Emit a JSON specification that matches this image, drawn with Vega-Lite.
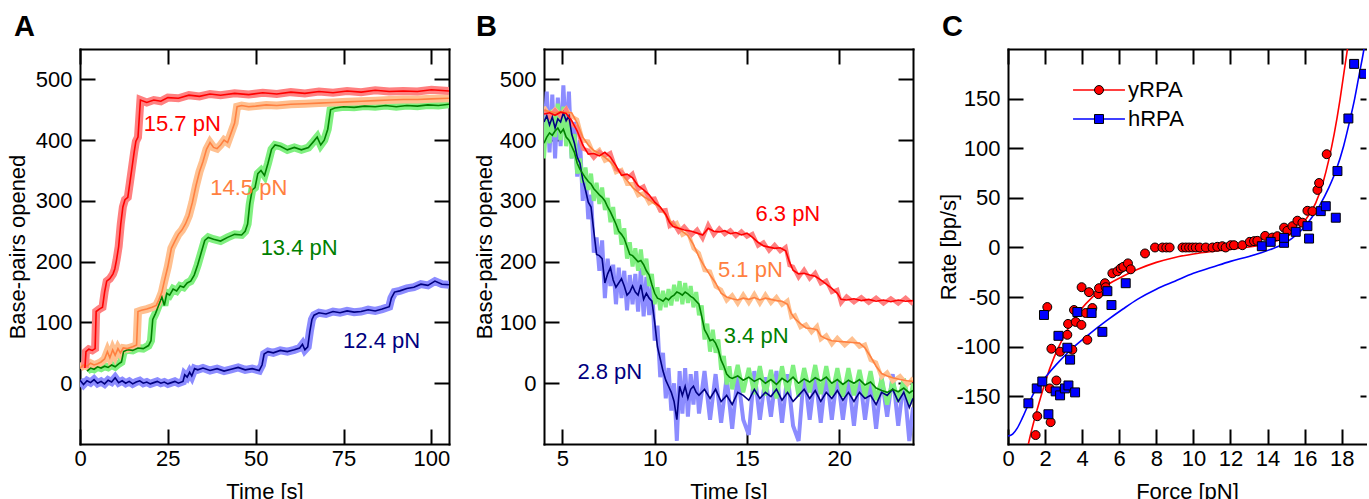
{
"$schema":"https://vega.github.io/schema/vega-lite/v6.json",
"padding":{"left":6,"top":13,"right":0,"bottom":0},
"bounds":"flush",
"spacing":95,
"resolve":{"scale":{"color":"independent","stroke":"independent","strokeWidth":"independent","fill":"independent","shape":"independent"},"legend":{"color":"independent","stroke":"independent","strokeWidth":"independent","fill":"independent","shape":"independent"}},
"config":{
"font":"Liberation Sans",
"view":{"stroke":null},
"axis":{"labelFontSize":22,"labelColor":"black","titleFontSize":22,"titleFontWeight":"normal","titleColor":"black","domainColor":"black","domainWidth":2,"domainCap":"square","tickColor":"black","tickWidth":2,"tickSize":-15,"grid":false,"labelFlush":false,"labelOverlap":false,"zindex":1},
"legend":{"labelFontSize":22,"labelColor":"black"},
"title":{"fontSize":29,"fontWeight":"bold","color":"black","anchor":"start","frame":"group"}
},
"datasets":{
"A":[
{"s":"12.4","t":0,"v":5},{"s":"12.4","t":1,"v":-2},{"s":"12.4","t":2,"v":4},{"s":"12.4","t":3,"v":1},{"s":"12.4","t":4,"v":6},{"s":"12.4","t":5,"v":0},{"s":"12.4","t":6,"v":3},{"s":"12.4","t":7,"v":-1},{"s":"12.4","t":8,"v":5},{"s":"12.4","t":9,"v":2},{"s":"12.4","t":10,"v":9},{"s":"12.4","t":11,"v":1},{"s":"12.4","t":12,"v":4},{"s":"12.4","t":13,"v":0},{"s":"12.4","t":14,"v":3},{"s":"12.4","t":15,"v":-1},{"s":"12.4","t":16,"v":2},{"s":"12.4","t":17,"v":4},{"s":"12.4","t":18,"v":0},{"s":"12.4","t":19,"v":2},{"s":"12.4","t":20,"v":-1},{"s":"12.4","t":21,"v":1},{"s":"12.4","t":22,"v":3},{"s":"12.4","t":23,"v":0},{"s":"12.4","t":24,"v":2},{"s":"12.4","t":25,"v":-1},{"s":"12.4","t":26,"v":1},{"s":"12.4","t":27,"v":3},{"s":"12.4","t":28,"v":0},{"s":"12.4","t":29.3,"v":3},{"s":"12.4","t":29.8,"v":14},{"s":"12.4","t":30.5,"v":10},{"s":"12.4","t":31.2,"v":18},{"s":"12.4","t":31.8,"v":12},{"s":"12.4","t":32.6,"v":24},{"s":"12.4","t":33.5,"v":22},{"s":"12.4","t":35,"v":25},{"s":"12.4","t":37,"v":21},{"s":"12.4","t":39,"v":24},{"s":"12.4","t":41,"v":20},{"s":"12.4","t":43,"v":23},{"s":"12.4","t":45,"v":26},{"s":"12.4","t":47,"v":22},{"s":"12.4","t":49,"v":24},{"s":"12.4","t":51,"v":21},{"s":"12.4","t":51.8,"v":30},{"s":"12.4","t":52.4,"v":48},{"s":"12.4","t":53.5,"v":52},{"s":"12.4","t":55,"v":50},{"s":"12.4","t":57,"v":54},{"s":"12.4","t":59,"v":52},{"s":"12.4","t":61,"v":55},{"s":"12.4","t":62.5,"v":58},{"s":"12.4","t":63.3,"v":64},{"s":"12.4","t":64,"v":55},{"s":"12.4","t":64.8,"v":60},{"s":"12.4","t":65.4,"v":85},{"s":"12.4","t":66,"v":105},{"s":"12.4","t":66.6,"v":112},{"s":"12.4","t":68,"v":116},{"s":"12.4","t":70,"v":114},{"s":"12.4","t":72,"v":118},{"s":"12.4","t":74,"v":116},{"s":"12.4","t":76,"v":119},{"s":"12.4","t":78,"v":117},{"s":"12.4","t":80,"v":118},{"s":"12.4","t":82,"v":121},{"s":"12.4","t":84,"v":119},{"s":"12.4","t":86,"v":122},{"s":"12.4","t":88,"v":126},{"s":"12.4","t":88.6,"v":140},{"s":"12.4","t":89.5,"v":150},{"s":"12.4","t":91,"v":152},{"s":"12.4","t":93,"v":156},{"s":"12.4","t":95,"v":158},{"s":"12.4","t":97,"v":163},{"s":"12.4","t":99,"v":161},{"s":"12.4","t":101,"v":168},{"s":"12.4","t":103,"v":163},{"s":"12.4","t":105,"v":162},
{"s":"13.4","t":2,"v":20},{"s":"13.4","t":3,"v":25},{"s":"13.4","t":4,"v":23},{"s":"13.4","t":5,"v":27},{"s":"13.4","t":6,"v":25},{"s":"13.4","t":7,"v":28},{"s":"13.4","t":8,"v":26},{"s":"13.4","t":9,"v":30},{"s":"13.4","t":10,"v":27},{"s":"13.4","t":11,"v":32},{"s":"13.4","t":11.8,"v":35},{"s":"13.4","t":12.4,"v":52},{"s":"13.4","t":13.5,"v":55},{"s":"13.4","t":15,"v":54},{"s":"13.4","t":16.5,"v":58},{"s":"13.4","t":18,"v":57},{"s":"13.4","t":19.5,"v":62},{"s":"13.4","t":20.2,"v":70},{"s":"13.4","t":20.7,"v":105},{"s":"13.4","t":21.5,"v":115},{"s":"13.4","t":22.5,"v":130},{"s":"13.4","t":23.3,"v":142},{"s":"13.4","t":24,"v":128},{"s":"13.4","t":24.7,"v":148},{"s":"13.4","t":25.5,"v":145},{"s":"13.4","t":26.5,"v":155},{"s":"13.4","t":27.5,"v":152},{"s":"13.4","t":28.5,"v":160},{"s":"13.4","t":29.5,"v":158},{"s":"13.4","t":30.5,"v":165},{"s":"13.4","t":31.5,"v":168},{"s":"13.4","t":32.5,"v":178},{"s":"13.4","t":33.5,"v":195},{"s":"13.4","t":34.5,"v":215},{"s":"13.4","t":35.5,"v":235},{"s":"13.4","t":36.5,"v":240},{"s":"13.4","t":38,"v":237},{"s":"13.4","t":40,"v":234},{"s":"13.4","t":42,"v":240},{"s":"13.4","t":44,"v":245},{"s":"13.4","t":46,"v":244},{"s":"13.4","t":47,"v":250},{"s":"13.4","t":47.7,"v":262},{"s":"13.4","t":48.3,"v":295},{"s":"13.4","t":49,"v":318},{"s":"13.4","t":49.8,"v":322},{"s":"13.4","t":50.6,"v":345},{"s":"13.4","t":51.5,"v":350},{"s":"13.4","t":52.5,"v":342},{"s":"13.4","t":53.5,"v":362},{"s":"13.4","t":54.5,"v":385},{"s":"13.4","t":55.5,"v":392},{"s":"13.4","t":57,"v":390},{"s":"13.4","t":59,"v":384},{"s":"13.4","t":61,"v":388},{"s":"13.4","t":63,"v":384},{"s":"13.4","t":65,"v":388},{"s":"13.4","t":66.5,"v":398},{"s":"13.4","t":67.5,"v":405},{"s":"13.4","t":68.5,"v":392},{"s":"13.4","t":69.5,"v":400},{"s":"13.4","t":70.5,"v":418},{"s":"13.4","t":71.3,"v":450},{"s":"13.4","t":72.5,"v":453},{"s":"13.4","t":75,"v":455},{"s":"13.4","t":78,"v":454},{"s":"13.4","t":81,"v":456},{"s":"13.4","t":84,"v":455},{"s":"13.4","t":87,"v":457},{"s":"13.4","t":90,"v":455},{"s":"13.4","t":93,"v":457},{"s":"13.4","t":96,"v":456},{"s":"13.4","t":99,"v":458},{"s":"13.4","t":102,"v":457},{"s":"13.4","t":105,"v":459},
{"s":"14.5","t":0,"v":25},{"s":"14.5","t":1,"v":30},{"s":"14.5","t":2,"v":28},{"s":"14.5","t":3,"v":33},{"s":"14.5","t":4,"v":30},{"s":"14.5","t":5,"v":32},{"s":"14.5","t":6,"v":35},{"s":"14.5","t":7,"v":40},{"s":"14.5","t":7.8,"v":52},{"s":"14.5","t":8.5,"v":42},{"s":"14.5","t":9.3,"v":55},{"s":"14.5","t":10,"v":46},{"s":"14.5","t":10.8,"v":57},{"s":"14.5","t":11.5,"v":50},{"s":"14.5","t":12.3,"v":58},{"s":"14.5","t":13.5,"v":57},{"s":"14.5","t":15,"v":60},{"s":"14.5","t":16.1,"v":63},{"s":"14.5","t":16.5,"v":118},{"s":"14.5","t":17.5,"v":120},{"s":"14.5","t":19,"v":122},{"s":"14.5","t":20.5,"v":125},{"s":"14.5","t":21.7,"v":128},{"s":"14.5","t":22.5,"v":138},{"s":"14.5","t":23.3,"v":150},{"s":"14.5","t":24,"v":168},{"s":"14.5","t":25,"v":192},{"s":"14.5","t":26,"v":222},{"s":"14.5","t":27,"v":234},{"s":"14.5","t":28,"v":245},{"s":"14.5","t":29,"v":252},{"s":"14.5","t":30,"v":262},{"s":"14.5","t":31,"v":276},{"s":"14.5","t":32,"v":298},{"s":"14.5","t":33,"v":325},{"s":"14.5","t":34,"v":348},{"s":"14.5","t":35,"v":365},{"s":"14.5","t":36,"v":385},{"s":"14.5","t":37,"v":396},{"s":"14.5","t":38,"v":388},{"s":"14.5","t":39,"v":386},{"s":"14.5","t":40,"v":392},{"s":"14.5","t":41,"v":400},{"s":"14.5","t":42,"v":396},{"s":"14.5","t":43,"v":412},{"s":"14.5","t":44,"v":428},{"s":"14.5","t":44.7,"v":455},{"s":"14.5","t":46,"v":457},{"s":"14.5","t":48,"v":455},{"s":"14.5","t":50,"v":456},{"s":"14.5","t":53,"v":458},{"s":"14.5","t":56,"v":457},{"s":"14.5","t":60,"v":459},{"s":"14.5","t":64,"v":460},{"s":"14.5","t":68,"v":461},{"s":"14.5","t":72,"v":462},{"s":"14.5","t":76,"v":463},{"s":"14.5","t":80,"v":464},{"s":"14.5","t":84,"v":465},{"s":"14.5","t":88,"v":466},{"s":"14.5","t":92,"v":467},{"s":"14.5","t":96,"v":467},{"s":"14.5","t":100,"v":468},{"s":"14.5","t":105,"v":469},
{"s":"15.7","t":1.4,"v":25},{"s":"15.7","t":1.7,"v":52},{"s":"15.7","t":2.5,"v":56},{"s":"15.7","t":3.5,"v":54},{"s":"15.7","t":4.3,"v":57},{"s":"15.7","t":4.6,"v":118},{"s":"15.7","t":5.5,"v":122},{"s":"15.7","t":6.4,"v":125},{"s":"15.7","t":7.0,"v":150},{"s":"15.7","t":7.6,"v":168},{"s":"15.7","t":8.5,"v":172},{"s":"15.7","t":9.4,"v":180},{"s":"15.7","t":9.9,"v":188},{"s":"15.7","t":10.4,"v":203},{"s":"15.7","t":11.0,"v":225},{"s":"15.7","t":11.6,"v":262},{"s":"15.7","t":12.2,"v":290},{"s":"15.7","t":12.8,"v":302},{"s":"15.7","t":13.6,"v":306},{"s":"15.7","t":14.2,"v":330},{"s":"15.7","t":14.8,"v":355},{"s":"15.7","t":15.4,"v":380},{"s":"15.7","t":15.9,"v":398},{"s":"15.7","t":16.5,"v":405},{"s":"15.7","t":16.9,"v":440},{"s":"15.7","t":17.2,"v":466},{"s":"15.7","t":19,"v":462},{"s":"15.7","t":21,"v":466},{"s":"15.7","t":23,"v":464},{"s":"15.7","t":25,"v":470},{"s":"15.7","t":28,"v":469},{"s":"15.7","t":31,"v":474},{"s":"15.7","t":34,"v":472},{"s":"15.7","t":37,"v":476},{"s":"15.7","t":40,"v":474},{"s":"15.7","t":44,"v":477},{"s":"15.7","t":48,"v":475},{"s":"15.7","t":52,"v":478},{"s":"15.7","t":56,"v":476},{"s":"15.7","t":60,"v":479},{"s":"15.7","t":64,"v":477},{"s":"15.7","t":68,"v":480},{"s":"15.7","t":72,"v":478},{"s":"15.7","t":76,"v":481},{"s":"15.7","t":80,"v":479},{"s":"15.7","t":84,"v":482},{"s":"15.7","t":88,"v":480},{"s":"15.7","t":92,"v":481},{"s":"15.7","t":96,"v":480},{"s":"15.7","t":100,"v":483},{"s":"15.7","t":105,"v":481}
],
"B":[
{"s":"2.8","t":4.0,"v":430,"r":400},{"s":"2.8","t":4.15,"v":440,"r":480},{"s":"2.8","t":4.3,"v":425,"r":380},{"s":"2.8","t":4.45,"v":438,"r":475},{"s":"2.8","t":4.6,"v":420,"r":370},{"s":"2.8","t":4.75,"v":435,"r":470},{"s":"2.8","t":4.9,"v":430,"r":390},{"s":"2.8","t":5.05,"v":445,"r":490},{"s":"2.8","t":5.2,"v":432,"r":400},{"s":"2.8","t":5.35,"v":440,"r":480},{"s":"2.8","t":5.5,"v":410,"r":370},{"s":"2.8","t":5.65,"v":395,"r":430},{"s":"2.8","t":5.8,"v":372,"r":340},{"s":"2.8","t":5.95,"v":362,"r":400},{"s":"2.8","t":6.1,"v":335,"r":300},{"s":"2.8","t":6.25,"v":318,"r":350},{"s":"2.8","t":6.4,"v":298,"r":270},{"s":"2.8","t":6.55,"v":290,"r":310},{"s":"2.8","t":6.7,"v":250,"r":215},{"s":"2.8","t":6.85,"v":212,"r":240},{"s":"2.8","t":7.0,"v":210,"r":185},{"s":"2.8","t":7.15,"v":205,"r":235},{"s":"2.8","t":7.3,"v":165,"r":140},{"s":"2.8","t":7.45,"v":180,"r":205},{"s":"2.8","t":7.6,"v":190,"r":160},{"s":"2.8","t":7.75,"v":170,"r":195},{"s":"2.8","t":7.9,"v":158,"r":130},{"s":"2.8","t":8.05,"v":165,"r":190},{"s":"2.8","t":8.2,"v":172,"r":140},{"s":"2.8","t":8.35,"v":160,"r":185},{"s":"2.8","t":8.5,"v":145,"r":120},{"s":"2.8","t":8.65,"v":150,"r":178},{"s":"2.8","t":8.8,"v":160,"r":130},{"s":"2.8","t":8.95,"v":150,"r":180},{"s":"2.8","t":9.1,"v":145,"r":118},{"s":"2.8","t":9.25,"v":162,"r":190},{"s":"2.8","t":9.4,"v":138,"r":110},{"s":"2.8","t":9.55,"v":148,"r":175},{"s":"2.8","t":9.7,"v":140,"r":112},{"s":"2.8","t":9.85,"v":135,"r":165},{"s":"2.8","t":10.0,"v":100,"r":70},{"s":"2.8","t":10.15,"v":60,"r":95},{"s":"2.8","t":10.3,"v":40,"r":10},{"s":"2.8","t":10.45,"v":20,"r":50},{"s":"2.8","t":10.6,"v":5,"r":-25},{"s":"2.8","t":10.75,"v":-5,"r":25},{"s":"2.8","t":10.9,"v":-15,"r":-45},{"s":"2.8","t":11.05,"v":-30,"r":0},{"s":"2.8","t":11.2,"v":-60,"r":-95},{"s":"2.8","t":11.35,"v":-5,"r":20},{"s":"2.8","t":11.5,"v":-20,"r":-50},{"s":"2.8","t":11.65,"v":-5,"r":25},{"s":"2.8","t":11.8,"v":-25,"r":-55},{"s":"2.8","t":11.95,"v":-10,"r":15},{"s":"2.8","t":12.1,"v":-5,"r":-35},{"s":"2.8","t":12.25,"v":-15,"r":20},{"s":"2.8","t":12.4,"v":-20,"r":-50},{"s":"2.8","t":12.7,"v":-10,"r":20},{"s":"2.8","t":13.0,"v":-25,"r":-60},{"s":"2.8","t":13.3,"v":-10,"r":15},{"s":"2.8","t":13.6,"v":-30,"r":-65},{"s":"2.8","t":13.9,"v":-20,"r":10},{"s":"2.8","t":14.2,"v":-35,"r":-75},{"s":"2.8","t":14.5,"v":-15,"r":15},{"s":"2.8","t":14.8,"v":-20,"r":-60},{"s":"2.8","t":15.1,"v":-28,"r":-85},{"s":"2.8","t":15.4,"v":-10,"r":20},{"s":"2.8","t":15.7,"v":-25,"r":-60},{"s":"2.8","t":16.0,"v":-15,"r":10},{"s":"2.8","t":16.3,"v":-22,"r":-55},{"s":"2.8","t":16.6,"v":-10,"r":20},{"s":"2.8","t":16.9,"v":-28,"r":-65},{"s":"2.8","t":17.2,"v":-15,"r":15},{"s":"2.8","t":17.5,"v":-30,"r":-70},{"s":"2.8","t":17.8,"v":-20,"r":-95},{"s":"2.8","t":18.1,"v":-10,"r":20},{"s":"2.8","t":18.4,"v":-25,"r":-60},{"s":"2.8","t":18.7,"v":-12,"r":15},{"s":"2.8","t":19.0,"v":-30,"r":-65},{"s":"2.8","t":19.3,"v":-15,"r":20},{"s":"2.8","t":19.6,"v":-25,"r":-60},{"s":"2.8","t":19.9,"v":-12,"r":15},{"s":"2.8","t":20.2,"v":-28,"r":-60},{"s":"2.8","t":20.5,"v":-15,"r":10},{"s":"2.8","t":20.8,"v":-30,"r":-70},{"s":"2.8","t":21.1,"v":-15,"r":15},{"s":"2.8","t":21.4,"v":-25,"r":-60},{"s":"2.8","t":21.7,"v":-20,"r":10},{"s":"2.8","t":22.0,"v":-35,"r":-75},{"s":"2.8","t":22.3,"v":-15,"r":10},{"s":"2.8","t":22.6,"v":-20,"r":-55},{"s":"2.8","t":22.9,"v":-10,"r":15},{"s":"2.8","t":23.2,"v":-30,"r":-70},{"s":"2.8","t":23.5,"v":-15,"r":5},{"s":"2.8","t":23.8,"v":-40,"r":-95},{"s":"2.8","t":24.0,"v":-25,"r":-40},
{"s":"3.4","t":4.0,"v":395,"r":370},{"s":"3.4","t":4.15,"v":405,"r":440},{"s":"3.4","t":4.3,"v":412,"r":395},{"s":"3.4","t":4.45,"v":408,"r":450},{"s":"3.4","t":4.6,"v":415,"r":405},{"s":"3.4","t":4.75,"v":420,"r":460},{"s":"3.4","t":4.9,"v":412,"r":400},{"s":"3.4","t":5.05,"v":418,"r":455},{"s":"3.4","t":5.2,"v":405,"r":390},{"s":"3.4","t":5.35,"v":400,"r":440},{"s":"3.4","t":5.5,"v":390,"r":370},{"s":"3.4","t":5.65,"v":380,"r":410},{"s":"3.4","t":5.8,"v":362,"r":345},{"s":"3.4","t":5.95,"v":352,"r":370},{"s":"3.4","t":6.1,"v":345,"r":330},{"s":"3.4","t":6.25,"v":338,"r":355},{"s":"3.4","t":6.4,"v":332,"r":318},{"s":"3.4","t":6.55,"v":328,"r":345},{"s":"3.4","t":6.7,"v":320,"r":300},{"s":"3.4","t":6.85,"v":315,"r":330},{"s":"3.4","t":7.0,"v":310,"r":295},{"s":"3.4","t":7.15,"v":306,"r":322},{"s":"3.4","t":7.3,"v":300,"r":285},{"s":"3.4","t":7.45,"v":290,"r":305},{"s":"3.4","t":7.6,"v":282,"r":265},{"s":"3.4","t":7.75,"v":272,"r":290},{"s":"3.4","t":7.9,"v":262,"r":245},{"s":"3.4","t":8.05,"v":250,"r":270},{"s":"3.4","t":8.2,"v":245,"r":228},{"s":"3.4","t":8.35,"v":238,"r":255},{"s":"3.4","t":8.5,"v":225,"r":205},{"s":"3.4","t":8.65,"v":212,"r":232},{"s":"3.4","t":8.8,"v":210,"r":192},{"s":"3.4","t":8.95,"v":205,"r":222},{"s":"3.4","t":9.1,"v":200,"r":185},{"s":"3.4","t":9.25,"v":202,"r":220},{"s":"3.4","t":9.4,"v":195,"r":178},{"s":"3.4","t":9.55,"v":185,"r":205},{"s":"3.4","t":9.7,"v":178,"r":160},{"s":"3.4","t":9.85,"v":162,"r":180},{"s":"3.4","t":10.0,"v":148,"r":130},{"s":"3.4","t":10.15,"v":140,"r":158},{"s":"3.4","t":10.3,"v":138,"r":120},{"s":"3.4","t":10.45,"v":135,"r":152},{"s":"3.4","t":10.6,"v":140,"r":125},{"s":"3.4","t":10.75,"v":137,"r":155},{"s":"3.4","t":10.9,"v":142,"r":128},{"s":"3.4","t":11.05,"v":145,"r":162},{"s":"3.4","t":11.2,"v":150,"r":135},{"s":"3.4","t":11.35,"v":148,"r":168},{"s":"3.4","t":11.5,"v":145,"r":130},{"s":"3.4","t":11.65,"v":150,"r":165},{"s":"3.4","t":11.8,"v":147,"r":132},{"s":"3.4","t":11.95,"v":143,"r":160},{"s":"3.4","t":12.1,"v":140,"r":125},{"s":"3.4","t":12.25,"v":135,"r":150},{"s":"3.4","t":12.4,"v":130,"r":112},{"s":"3.4","t":12.55,"v":110,"r":128},{"s":"3.4","t":12.7,"v":88,"r":72},{"s":"3.4","t":12.85,"v":80,"r":98},{"s":"3.4","t":13.0,"v":70,"r":52},{"s":"3.4","t":13.15,"v":72,"r":88},{"s":"3.4","t":13.3,"v":66,"r":50},{"s":"3.4","t":13.45,"v":55,"r":72},{"s":"3.4","t":13.6,"v":38,"r":22},{"s":"3.4","t":13.75,"v":28,"r":45},{"s":"3.4","t":13.9,"v":15,"r":-2},{"s":"3.4","t":14.05,"v":10,"r":28},{"s":"3.4","t":14.2,"v":8,"r":-10},{"s":"3.4","t":14.5,"v":12,"r":30},{"s":"3.4","t":14.8,"v":5,"r":-15},{"s":"3.4","t":15.1,"v":10,"r":25},{"s":"3.4","t":15.4,"v":3,"r":-18},{"s":"3.4","t":15.7,"v":8,"r":28},{"s":"3.4","t":16.0,"v":0,"r":-20},{"s":"3.4","t":16.3,"v":6,"r":22},{"s":"3.4","t":16.6,"v":-2,"r":-25},{"s":"3.4","t":16.9,"v":8,"r":28},{"s":"3.4","t":17.2,"v":2,"r":-18},{"s":"3.4","t":17.5,"v":10,"r":30},{"s":"3.4","t":17.8,"v":0,"r":-22},{"s":"3.4","t":18.1,"v":7,"r":25},{"s":"3.4","t":18.4,"v":2,"r":-15},{"s":"3.4","t":18.7,"v":9,"r":30},{"s":"3.4","t":19.0,"v":4,"r":-18},{"s":"3.4","t":19.3,"v":10,"r":28},{"s":"3.4","t":19.6,"v":0,"r":-20},{"s":"3.4","t":19.9,"v":6,"r":25},{"s":"3.4","t":20.2,"v":-2,"r":-22},{"s":"3.4","t":20.5,"v":5,"r":25},{"s":"3.4","t":20.8,"v":0,"r":-20},{"s":"3.4","t":21.1,"v":6,"r":22},{"s":"3.4","t":21.4,"v":-3,"r":-22},{"s":"3.4","t":21.7,"v":2,"r":20},{"s":"3.4","t":22.0,"v":-8,"r":-28},{"s":"3.4","t":22.3,"v":-12,"r":8},{"s":"3.4","t":22.6,"v":-15,"r":-35},{"s":"3.4","t":22.9,"v":-10,"r":5},{"s":"3.4","t":23.2,"v":-14,"r":-30},{"s":"3.4","t":23.5,"v":-8,"r":8},{"s":"3.4","t":23.8,"v":-16,"r":-35},{"s":"3.4","t":24.0,"v":-12,"r":0},
{"s":"5.1","t":4.0,"v":449,"r":455},{"s":"5.1","t":4.3,"v":447,"r":441},{"s":"5.1","t":4.6,"v":445,"r":451},{"s":"5.1","t":4.9,"v":447,"r":441},{"s":"5.1","t":5.2,"v":446,"r":452},{"s":"5.1","t":5.5,"v":445,"r":439},{"s":"5.1","t":5.8,"v":428,"r":434},{"s":"5.1","t":6.1,"v":405,"r":399},{"s":"5.1","t":6.4,"v":392,"r":398},{"s":"5.1","t":6.7,"v":383,"r":377},{"s":"5.1","t":7.0,"v":378,"r":384},{"s":"5.1","t":7.3,"v":372,"r":366},{"s":"5.1","t":7.6,"v":364,"r":370},{"s":"5.1","t":7.9,"v":353,"r":347},{"s":"5.1","t":8.2,"v":345,"r":351},{"s":"5.1","t":8.5,"v":334,"r":328},{"s":"5.1","t":8.8,"v":322,"r":328},{"s":"5.1","t":9.1,"v":315,"r":309},{"s":"5.1","t":9.4,"v":307,"r":313},{"s":"5.1","t":9.7,"v":302,"r":296},{"s":"5.1","t":10.0,"v":295,"r":301},{"s":"5.1","t":10.3,"v":290,"r":284},{"s":"5.1","t":10.6,"v":276,"r":282},{"s":"5.1","t":10.9,"v":265,"r":259},{"s":"5.1","t":11.2,"v":258,"r":264},{"s":"5.1","t":11.5,"v":250,"r":244},{"s":"5.1","t":11.8,"v":243,"r":249},{"s":"5.1","t":12.1,"v":228,"r":222},{"s":"5.1","t":12.4,"v":208,"r":214},{"s":"5.1","t":12.7,"v":192,"r":186},{"s":"5.1","t":13.0,"v":178,"r":184},{"s":"5.1","t":13.3,"v":165,"r":159},{"s":"5.1","t":13.6,"v":148,"r":154},{"s":"5.1","t":13.9,"v":142,"r":136},{"s":"5.1","t":14.2,"v":139,"r":145},{"s":"5.1","t":14.5,"v":137,"r":131},{"s":"5.1","t":14.8,"v":140,"r":146},{"s":"5.1","t":15.1,"v":138,"r":132},{"s":"5.1","t":15.4,"v":141,"r":147},{"s":"5.1","t":15.7,"v":137,"r":131},{"s":"5.1","t":16.0,"v":140,"r":146},{"s":"5.1","t":16.3,"v":138,"r":132},{"s":"5.1","t":16.6,"v":136,"r":142},{"s":"5.1","t":16.9,"v":135,"r":129},{"s":"5.1","t":17.2,"v":130,"r":136},{"s":"5.1","t":17.4,"v":115,"r":109},{"s":"5.1","t":17.6,"v":106,"r":112},{"s":"5.1","t":17.9,"v":98,"r":92},{"s":"5.1","t":18.2,"v":91,"r":97},{"s":"5.1","t":18.5,"v":90,"r":84},{"s":"5.1","t":18.8,"v":88,"r":94},{"s":"5.1","t":19.0,"v":78,"r":72},{"s":"5.1","t":19.3,"v":73,"r":79},{"s":"5.1","t":19.6,"v":70,"r":64},{"s":"5.1","t":19.9,"v":69,"r":75},{"s":"5.1","t":20.3,"v":68,"r":62},{"s":"5.1","t":20.7,"v":67,"r":73},{"s":"5.1","t":21.1,"v":66,"r":60},{"s":"5.1","t":21.4,"v":58,"r":64},{"s":"5.1","t":21.7,"v":44,"r":38},{"s":"5.1","t":22.0,"v":28,"r":34},{"s":"5.1","t":22.3,"v":16,"r":10},{"s":"5.1","t":22.6,"v":12,"r":18},{"s":"5.1","t":22.9,"v":9,"r":3},{"s":"5.1","t":23.3,"v":6,"r":12},{"s":"5.1","t":23.7,"v":4,"r":-2},{"s":"5.1","t":24.0,"v":3,"r":9},
{"s":"6.3","t":4.0,"v":443,"r":450},{"s":"6.3","t":4.3,"v":445,"r":438},{"s":"6.3","t":4.6,"v":441,"r":449},{"s":"6.3","t":4.9,"v":446,"r":439},{"s":"6.3","t":5.2,"v":444,"r":451},{"s":"6.3","t":5.5,"v":432,"r":426},{"s":"6.3","t":5.8,"v":415,"r":421},{"s":"6.3","t":6.1,"v":392,"r":386},{"s":"6.3","t":6.4,"v":377,"r":383},{"s":"6.3","t":6.7,"v":378,"r":371},{"s":"6.3","t":7.0,"v":374,"r":381},{"s":"6.3","t":7.3,"v":380,"r":374},{"s":"6.3","t":7.6,"v":372,"r":379},{"s":"6.3","t":7.9,"v":358,"r":352},{"s":"6.3","t":8.2,"v":342,"r":348},{"s":"6.3","t":8.5,"v":344,"r":337},{"s":"6.3","t":8.8,"v":338,"r":345},{"s":"6.3","t":9.1,"v":325,"r":319},{"s":"6.3","t":9.4,"v":318,"r":324},{"s":"6.3","t":9.7,"v":310,"r":303},{"s":"6.3","t":10.0,"v":298,"r":304},{"s":"6.3","t":10.3,"v":290,"r":284},{"s":"6.3","t":10.6,"v":278,"r":285},{"s":"6.3","t":10.8,"v":265,"r":259},{"s":"6.3","t":11.0,"v":258,"r":264},{"s":"6.3","t":11.3,"v":255,"r":249},{"s":"6.3","t":11.6,"v":252,"r":258},{"s":"6.3","t":12.0,"v":250,"r":244},{"s":"6.3","t":12.3,"v":247,"r":253},{"s":"6.3","t":12.6,"v":244,"r":238},{"s":"6.3","t":12.9,"v":255,"r":261},{"s":"6.3","t":13.2,"v":250,"r":244},{"s":"6.3","t":13.5,"v":249,"r":255},{"s":"6.3","t":13.8,"v":251,"r":245},{"s":"6.3","t":14.1,"v":246,"r":252},{"s":"6.3","t":14.4,"v":248,"r":242},{"s":"6.3","t":14.7,"v":244,"r":250},{"s":"6.3","t":15.0,"v":247,"r":241},{"s":"6.3","t":15.3,"v":240,"r":246},{"s":"6.3","t":15.6,"v":232,"r":226},{"s":"6.3","t":15.9,"v":226,"r":232},{"s":"6.3","t":16.2,"v":224,"r":218},{"s":"6.3","t":16.5,"v":222,"r":228},{"s":"6.3","t":16.8,"v":223,"r":217},{"s":"6.3","t":17.1,"v":218,"r":224},{"s":"6.3","t":17.3,"v":200,"r":194},{"s":"6.3","t":17.5,"v":186,"r":192},{"s":"6.3","t":17.8,"v":180,"r":174},{"s":"6.3","t":18.1,"v":181,"r":187},{"s":"6.3","t":18.4,"v":178,"r":172},{"s":"6.3","t":18.7,"v":176,"r":182},{"s":"6.3","t":19.0,"v":170,"r":164},{"s":"6.3","t":19.3,"v":163,"r":169},{"s":"6.3","t":19.6,"v":156,"r":150},{"s":"6.3","t":19.9,"v":148,"r":154},{"s":"6.3","t":20.1,"v":138,"r":132},{"s":"6.3","t":20.4,"v":137,"r":143},{"s":"6.3","t":20.8,"v":139,"r":133},{"s":"6.3","t":21.2,"v":136,"r":142},{"s":"6.3","t":21.6,"v":138,"r":132},{"s":"6.3","t":22.0,"v":135,"r":141},{"s":"6.3","t":22.4,"v":137,"r":131},{"s":"6.3","t":22.8,"v":134,"r":140},{"s":"6.3","t":23.2,"v":137,"r":131},{"s":"6.3","t":23.6,"v":135,"r":141},{"s":"6.3","t":24.0,"v":136,"r":130}
],
"LA":[{"s":"15.7","t":18.15,"v":426,"txt":"15.7 pN"},{"s":"14.5","t":37.06,"v":322,"txt":"14.5 pN"},{"s":"13.4","t":51.4,"v":222,"txt":"13.4 pN"},{"s":"12.4","t":74.85,"v":69,"txt":"12.4 pN"}],
"LB":[{"s":"6.3","t":15.46,"v":278,"txt":"6.3 pN"},{"s":"5.1","t":13.43,"v":186,"txt":"5.1 pN"},{"s":"3.4","t":13.74,"v":77,"txt":"3.4 pN"},{"s":"2.8","t":5.81,"v":19,"txt":"2.8 pN"}],
"CF":[
{"series":"yRPA","f":1.0,"rate":-207},{"series":"yRPA","f":1.1,"rate":-198},{"series":"yRPA","f":1.4,"rate":-175},{"series":"yRPA","f":1.7,"rate":-155},{"series":"yRPA","f":2.05,"rate":-133},{"series":"yRPA","f":2.5,"rate":-110},{"series":"yRPA","f":3.0,"rate":-90},{"series":"yRPA","f":3.5,"rate":-74},{"series":"yRPA","f":4.0,"rate":-61},{"series":"yRPA","f":4.5,"rate":-51},{"series":"yRPA","f":5.0,"rate":-43},{"series":"yRPA","f":5.5,"rate":-36},{"series":"yRPA","f":6.0,"rate":-31},{"series":"yRPA","f":7.0,"rate":-22},{"series":"yRPA","f":8.0,"rate":-15},{"series":"yRPA","f":9.0,"rate":-10},{"series":"yRPA","f":10.0,"rate":-6.5},{"series":"yRPA","f":11.0,"rate":-4},{"series":"yRPA","f":12.0,"rate":-2},{"series":"yRPA","f":13.0,"rate":0.5},{"series":"yRPA","f":13.7,"rate":2.5},{"series":"yRPA","f":14.3,"rate":5.5},{"series":"yRPA","f":14.8,"rate":9},{"series":"yRPA","f":15.3,"rate":14},{"series":"yRPA","f":15.8,"rate":22},{"series":"yRPA","f":16.2,"rate":32},{"series":"yRPA","f":16.6,"rate":45},{"series":"yRPA","f":17.0,"rate":66},{"series":"yRPA","f":17.3,"rate":88},{"series":"yRPA","f":17.6,"rate":115},{"series":"yRPA","f":17.9,"rate":148},{"series":"yRPA","f":18.15,"rate":180},{"series":"yRPA","f":18.35,"rate":205},
{"series":"hRPA","f":0,"rate":-190},{"series":"hRPA","f":0.25,"rate":-188},{"series":"hRPA","f":0.5,"rate":-182},{"series":"hRPA","f":0.77,"rate":-172},{"series":"hRPA","f":1.1,"rate":-158},{"series":"hRPA","f":1.5,"rate":-143},{"series":"hRPA","f":2.05,"rate":-130},{"series":"hRPA","f":2.6,"rate":-118},{"series":"hRPA","f":3.5,"rate":-101},{"series":"hRPA","f":4.4,"rate":-87},{"series":"hRPA","f":5.3,"rate":-74},{"series":"hRPA","f":6.2,"rate":-62},{"series":"hRPA","f":7.0,"rate":-52},{"series":"hRPA","f":8.0,"rate":-42},{"series":"hRPA","f":9.0,"rate":-34},{"series":"hRPA","f":10.0,"rate":-26},{"series":"hRPA","f":11.0,"rate":-20},{"series":"hRPA","f":12.0,"rate":-14},{"series":"hRPA","f":13.0,"rate":-9},{"series":"hRPA","f":13.7,"rate":-5},{"series":"hRPA","f":14.3,"rate":-1},{"series":"hRPA","f":14.8,"rate":3},{"series":"hRPA","f":15.3,"rate":9},{"series":"hRPA","f":15.8,"rate":17},{"series":"hRPA","f":16.3,"rate":28},{"series":"hRPA","f":16.8,"rate":42},{"series":"hRPA","f":17.3,"rate":60},{"series":"hRPA","f":17.7,"rate":78},{"series":"hRPA","f":18.1,"rate":102},{"series":"hRPA","f":18.4,"rate":125},{"series":"hRPA","f":18.7,"rate":150},{"series":"hRPA","f":18.95,"rate":175},{"series":"hRPA","f":19.2,"rate":200},{"series":"hRPA","f":19.3,"rate":212}
],
"CP":[
{"series":"yRPA","f":1.49,"rate":-189},{"series":"yRPA","f":1.58,"rate":-170},{"series":"yRPA","f":2.12,"rate":-60},{"series":"yRPA","f":2.25,"rate":-142},{"series":"yRPA","f":2.30,"rate":-176},{"series":"yRPA","f":2.34,"rate":-102},{"series":"yRPA","f":2.61,"rate":-134},{"series":"yRPA","f":2.81,"rate":-105},{"series":"yRPA","f":3.20,"rate":-88},{"series":"yRPA","f":3.24,"rate":-77},{"series":"yRPA","f":3.47,"rate":-103},{"series":"yRPA","f":3.56,"rate":-63},{"series":"yRPA","f":3.65,"rate":-75},{"series":"yRPA","f":3.96,"rate":-78},{"series":"yRPA","f":3.97,"rate":-40},{"series":"yRPA","f":4.19,"rate":-66},{"series":"yRPA","f":4.28,"rate":-93},{"series":"yRPA","f":4.37,"rate":-45},{"series":"yRPA","f":4.55,"rate":-61},{"series":"yRPA","f":4.87,"rate":-47},{"series":"yRPA","f":4.91,"rate":-41},{"series":"yRPA","f":5.23,"rate":-36},{"series":"yRPA","f":5.27,"rate":-40},{"series":"yRPA","f":5.63,"rate":-26},{"series":"yRPA","f":5.90,"rate":-24},{"series":"yRPA","f":6.08,"rate":-21},{"series":"yRPA","f":6.22,"rate":-19.5},{"series":"yRPA","f":6.47,"rate":-16},{"series":"yRPA","f":6.62,"rate":-22},{"series":"yRPA","f":7.39,"rate":-6},{"series":"yRPA","f":7.93,"rate":0},{"series":"yRPA","f":8.33,"rate":0},{"series":"yRPA","f":8.54,"rate":0},{"series":"yRPA","f":8.72,"rate":0},{"series":"yRPA","f":9.41,"rate":0},{"series":"yRPA","f":9.59,"rate":0},{"series":"yRPA","f":9.77,"rate":0},{"series":"yRPA","f":9.95,"rate":0},{"series":"yRPA","f":10.13,"rate":0},{"series":"yRPA","f":10.34,"rate":0},{"series":"yRPA","f":10.67,"rate":0},{"series":"yRPA","f":11.03,"rate":0},{"series":"yRPA","f":11.29,"rate":0.7},{"series":"yRPA","f":11.56,"rate":1.3},{"series":"yRPA","f":11.74,"rate":0},{"series":"yRPA","f":12.01,"rate":2.3},{"series":"yRPA","f":12.19,"rate":2.3},{"series":"yRPA","f":12.64,"rate":2.3},{"series":"yRPA","f":13.04,"rate":5.7},{"series":"yRPA","f":13.27,"rate":6.4},{"series":"yRPA","f":13.45,"rate":6.7},{"series":"yRPA","f":13.87,"rate":11.7},{"series":"yRPA","f":14.26,"rate":10},{"series":"yRPA","f":14.53,"rate":11.4},{"series":"yRPA","f":14.89,"rate":20},{"series":"yRPA","f":15.07,"rate":16.8},{"series":"yRPA","f":15.34,"rate":21.5},{"series":"yRPA","f":15.61,"rate":27},{"series":"yRPA","f":15.88,"rate":25},{"series":"yRPA","f":16.15,"rate":37},{"series":"yRPA","f":16.42,"rate":36.6},{"series":"yRPA","f":16.69,"rate":58},{"series":"yRPA","f":16.78,"rate":65},{"series":"yRPA","f":17.19,"rate":94},
{"series":"hRPA","f":1.10,"rate":-157},{"series":"hRPA","f":1.55,"rate":-142},{"series":"hRPA","f":1.85,"rate":-135},{"series":"hRPA","f":1.94,"rate":-68},{"series":"hRPA","f":2.18,"rate":-168},{"series":"hRPA","f":2.57,"rate":-145},{"series":"hRPA","f":2.72,"rate":-89},{"series":"hRPA","f":2.81,"rate":-149},{"series":"hRPA","f":3.07,"rate":-142},{"series":"hRPA","f":3.20,"rate":-101},{"series":"hRPA","f":3.26,"rate":-139},{"series":"hRPA","f":3.35,"rate":-113},{"series":"hRPA","f":3.62,"rate":-146},{"series":"hRPA","f":3.74,"rate":-65},{"series":"hRPA","f":4.51,"rate":-66},{"series":"hRPA","f":5.09,"rate":-85},{"series":"hRPA","f":5.36,"rate":-44},{"series":"hRPA","f":5.58,"rate":-58},{"series":"hRPA","f":6.35,"rate":-36},{"series":"hRPA","f":13.69,"rate":1.3},{"series":"hRPA","f":14.17,"rate":5.7},{"series":"hRPA","f":14.89,"rate":4.7},{"series":"hRPA","f":14.89,"rate":9.7},{"series":"hRPA","f":15.52,"rate":15.8},{"series":"hRPA","f":16.15,"rate":21.5},{"series":"hRPA","f":16.24,"rate":9},{"series":"hRPA","f":16.87,"rate":36.6},{"series":"hRPA","f":17.14,"rate":41.6},{"series":"hRPA","f":17.68,"rate":30},{"series":"hRPA","f":17.77,"rate":77},{"series":"hRPA","f":18.36,"rate":130},{"series":"hRPA","f":18.67,"rate":185},{"series":"hRPA","f":19.21,"rate":175}
]
},
"hconcat":[
{
"width":369,"height":395,
"title":{"text":"A","dx":-66,"dy":21,"offset":4,"baseline":"alphabetic"},
"resolve":{"axis":{"x":"independent","y":"independent"}},
"layer":[
{"data":{"name":"A"},"mark":{"type":"line","strokeWidth":8,"clip":true},
"encoding":{
"x":{"field":"t","type":"quantitative","scale":{"domain":[0,105],"nice":false,"zero":false},"axis":{"orient":"bottom","values":[0,25,50,75,100],"title":"Time [s]","labelPadding":19,"titleY":37}},
"y":{"field":"v","type":"quantitative","scale":{"domain":[-100,550],"nice":false,"zero":false},"axis":{"orient":"left","values":[0,100,200,300,400,500],"title":"Base-pairs opened","labelPadding":23,"titleX":-51}},
"stroke":{"field":"s","type":"nominal","scale":{"domain":["12.4","13.4","14.5","15.7"],"range":["#8c8cff","#80f080","#ffc090","#ff8080"]},"legend":null}}},
{"data":{"name":"A"},"mark":{"type":"line","strokeWidth":1.6,"clip":true},
"encoding":{
"x":{"field":"t","type":"quantitative","scale":{"domain":[0,105],"nice":false,"zero":false},"axis":null},
"y":{"field":"v","type":"quantitative","scale":{"domain":[-100,550],"nice":false,"zero":false},"axis":null},
"color":{"field":"s","type":"nominal","scale":{"domain":["12.4","13.4","14.5","15.7"],"range":["#000080","#008000","#ff8040","#ff0000"]},"legend":null}}},
{"data":{"name":"LA"},"mark":{"type":"text","align":"left","baseline":"middle","fontSize":22},
"encoding":{
"x":{"field":"t","type":"quantitative","scale":{"domain":[0,105],"nice":false,"zero":false},"axis":null},
"y":{"field":"v","type":"quantitative","scale":{"domain":[-100,550],"nice":false,"zero":false},"axis":null},
"text":{"field":"txt"},
"color":{"field":"s","type":"nominal","scale":{"domain":["12.4","13.4","14.5","15.7"],"range":["#000080","#008000","#ff8040","#ff0000"]},"legend":null}}},
{"data":{"name":"LA"},"mark":{"type":"point","opacity":0,"clip":true},
"encoding":{
"x":{"field":"t","type":"quantitative","scale":{"domain":[0,105],"nice":false,"zero":false},"axis":{"orient":"top","values":[0,25,50,75,100],"labels":false,"title":null}},
"y":{"field":"v","type":"quantitative","scale":{"domain":[-100,550],"nice":false,"zero":false},"axis":{"orient":"right","values":[0,100,200,300,400,500],"labels":false,"title":null}}}}
]
},
{
"width":369,"height":395,
"title":{"text":"B","dx":-68,"dy":21,"offset":4,"baseline":"alphabetic"},
"resolve":{"axis":{"x":"independent","y":"independent"}},
"layer":[
{"data":{"name":"B"},"mark":{"type":"line","clip":true},
"encoding":{
"x":{"field":"t","type":"quantitative","scale":{"domain":[4,24],"nice":false,"zero":false},"axis":{"orient":"bottom","values":[5,10,15,20],"title":"Time [s]","labelPadding":19,"titleY":37}},
"y":{"field":"r","type":"quantitative","scale":{"domain":[-100,550],"nice":false,"zero":false},"axis":{"orient":"left","values":[0,100,200,300,400,500],"title":"Base-pairs opened","labelPadding":23,"titleX":-48}},
"stroke":{"field":"s","type":"nominal","scale":{"domain":["2.8","3.4","5.1","6.3"],"range":["#8c8cff","#80f080","#ffc090","#ff8080"]},"legend":null},
"strokeWidth":{"field":"s","type":"nominal","scale":{"domain":["2.8","3.4","5.1","6.3"],"range":[4,4,8,8]},"legend":null}}},
{"data":{"name":"B"},"mark":{"type":"line","strokeWidth":1.6,"clip":true},
"encoding":{
"x":{"field":"t","type":"quantitative","scale":{"domain":[4,24],"nice":false,"zero":false},"axis":null},
"y":{"field":"v","type":"quantitative","scale":{"domain":[-100,550],"nice":false,"zero":false},"axis":null},
"color":{"field":"s","type":"nominal","scale":{"domain":["2.8","3.4","5.1","6.3"],"range":["#000080","#008000","#ff8040","#ff0000"]},"legend":null}}},
{"data":{"name":"LB"},"mark":{"type":"text","align":"left","baseline":"middle","fontSize":22},
"encoding":{
"x":{"field":"t","type":"quantitative","scale":{"domain":[4,24],"nice":false,"zero":false},"axis":null},
"y":{"field":"v","type":"quantitative","scale":{"domain":[-100,550],"nice":false,"zero":false},"axis":null},
"text":{"field":"txt"},
"color":{"field":"s","type":"nominal","scale":{"domain":["2.8","3.4","5.1","6.3"],"range":["#000080","#008000","#ff8040","#ff0000"]},"legend":null}}},
{"data":{"name":"LB"},"mark":{"type":"point","opacity":0,"clip":true},
"encoding":{
"x":{"field":"t","type":"quantitative","scale":{"domain":[4,24],"nice":false,"zero":false},"axis":{"orient":"top","values":[5,10,15,20],"labels":false,"title":null}},
"y":{"field":"v","type":"quantitative","scale":{"domain":[-100,550],"nice":false,"zero":false},"axis":{"orient":"right","values":[0,100,200,300,400,500],"labels":false,"title":null}}}}
]
},
{
"width":358,"height":395,
"title":{"text":"C","dx":-66,"dy":21,"offset":4,"baseline":"alphabetic"},
"resolve":{"axis":{"x":"independent","y":"independent"}},
"layer":[
{"data":{"name":"CF"},"mark":{"type":"line","strokeWidth":1.6,"clip":true,"interpolate":"monotone"},
"encoding":{
"x":{"field":"f","type":"quantitative","scale":{"domain":[0,19.31],"nice":false,"zero":false},"axis":{"orient":"bottom","values":[0,2,4,6,8,10,12,14,16,18],"title":"Force [pN]","labelPadding":19,"titleY":37}},
"y":{"field":"rate","type":"quantitative","scale":{"domain":[-198,200],"nice":false,"zero":false},"axis":{"orient":"left","values":[-150,-100,-50,0,50,100,150],"labelExpr":"'' + datum.value","title":"Rate [bp/s]","labelPadding":23,"titleX":-48}},
"stroke":{"field":"series","type":"nominal","sort":"descending","scale":{"range":["#ff0000","#0000ff"]},
"legend":{"orient":"none","legendX":80,"legendY":30,"title":null,"symbolType":"M-5.8,0L5.8,0","symbolSize":80,"symbolStrokeWidth":1.5,"labelFontSize":22,"labelOffset":18,"rowPadding":7,"padding":0}}}},
{"data":{"name":"CP"},"mark":{"type":"point","filled":true,"size":80,"stroke":"black","strokeWidth":1,"opacity":1,"clip":true},
"encoding":{
"x":{"field":"f","type":"quantitative","scale":{"domain":[0,19.31],"nice":false,"zero":false},"axis":null},
"y":{"field":"rate","type":"quantitative","scale":{"domain":[-198,200],"nice":false,"zero":false},"axis":null},
"fill":{"field":"series","type":"nominal","scale":{"domain":["yRPA","hRPA"],"range":["#ff0000","#0000ff"]},
"legend":{"orient":"none","legendX":80,"legendY":30,"title":null,"symbolSize":80,"symbolStrokeColor":"black","symbolStrokeWidth":1,"symbolOpacity":1,"labelFontSize":22,"labelOffset":18,"rowPadding":7,"padding":0,"labelOpacity":0}},
"shape":{"field":"series","type":"nominal","scale":{"domain":["yRPA","hRPA"],"range":["circle","square"]}}}},
{"data":{"name":"CP"},"mark":{"type":"point","opacity":0,"clip":true},
"encoding":{
"x":{"field":"f","type":"quantitative","scale":{"domain":[0,19.31],"nice":false,"zero":false},"axis":{"orient":"top","values":[0,2,4,6,8,10,12,14,16,18],"labels":false,"title":null}},
"y":{"field":"rate","type":"quantitative","scale":{"domain":[-198,200],"nice":false,"zero":false},"axis":{"orient":"right","values":[-150,-100,-50,0,50,100,150],"labels":false,"title":null,"domain":false,"tickSize":-6}}}}
]
}
]
}
